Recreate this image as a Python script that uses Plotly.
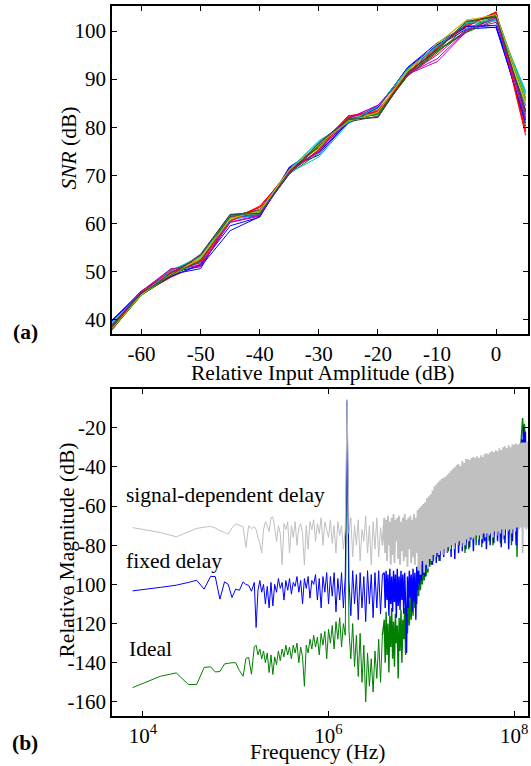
import plotly.graph_objects as go

# ---------------- (a) SNR vs relative input amplitude ----------------
amp_db = [-65, -60, -55, -50, -45, -40, -35, -30, -25, -20, -15, -10, -5, 0, 5]

snr_runs = [
    [39.6, 46.0, 49.4, 50.6, 61.2, 61.6, 71.6, 74.2, 81.2, 84.4, 91.8, 96.8, 100.4, 100.8, 84.5],
    [37.9, 45.1, 49.0, 52.4, 61.6, 62.6, 70.6, 76.4, 81.6, 83.0, 90.8, 95.8, 99.7, 102.4, 80.2],
    [38.9, 45.4, 48.8, 51.6, 60.6, 63.6, 70.4, 75.4, 82.2, 83.6, 90.6, 95.4, 100.9, 104.0, 78.3],
    [39.3, 45.5, 50.3, 52.9, 61.3, 62.2, 71.1, 77.2, 80.9, 84.2, 92.2, 96.9, 101.4, 102.1, 87.6],
    [38.5, 45.8, 50.5, 51.3, 60.2, 61.5, 70.7, 75.1, 81.9, 84.5, 91.0, 93.6, 99.9, 102.9, 82.0],
    [38.2, 45.3, 49.6, 53.1, 60.9, 62.8, 71.3, 76.1, 81.3, 83.3, 91.7, 97.2, 102.3, 103.1, 85.2],
    [38.7, 45.6, 49.3, 53.6, 61.9, 62.0, 70.2, 76.8, 81.7, 82.0, 91.2, 96.3, 101.9, 103.0, 83.1],
    [39.9, 45.9, 49.9, 51.0, 58.5, 61.4, 71.7, 75.7, 81.0, 83.9, 92.4, 97.5, 101.1, 100.7, 81.4],
    [38.1, 45.1, 49.2, 52.2, 61.8, 62.4, 70.3, 74.6, 81.4, 82.8, 90.7, 95.7, 100.2, 103.6, 86.1],
    [37.8, 45.7, 50.2, 52.6, 61.0, 63.3, 70.9, 76.0, 82.4, 83.0, 91.4, 96.6, 101.0, 103.8, 79.4],
    [39.0, 45.2, 49.5, 52.0, 60.7, 61.9, 70.5, 73.8, 80.8, 84.0, 91.9, 97.0, 100.6, 102.6, 86.8],
    [38.4, 45.5, 50.0, 51.8, 61.4, 62.9, 71.0, 76.5, 82.0, 83.4, 90.9, 95.0, 100.3, 101.8, 83.6],
    [39.4, 45.8, 49.1, 52.8, 61.1, 62.3, 71.4, 75.6, 81.5, 83.8, 92.0, 97.3, 102.1, 102.5, 84.7],
    [38.0, 45.3, 49.7, 53.3, 61.5, 61.8, 70.6, 76.3, 81.1, 82.3, 91.3, 96.0, 101.6, 103.3, 82.6],
    [39.7, 45.7, 49.0, 51.4, 59.5, 61.3, 71.5, 74.8, 80.9, 84.1, 92.3, 97.1, 100.9, 101.2, 80.8],
    [38.3, 45.4, 49.5, 52.1, 61.6, 62.7, 70.5, 76.0, 81.8, 82.6, 90.6, 96.1, 99.8, 103.2, 85.6],
    [38.6, 45.6, 49.8, 52.3, 60.4, 63.4, 70.8, 75.2, 82.3, 83.2, 90.9, 96.4, 101.3, 103.9, 79.0],
    [39.1, 45.3, 50.1, 53.2, 61.7, 62.1, 71.2, 76.9, 81.0, 84.3, 92.1, 96.7, 101.7, 102.3, 87.2],
    [38.8, 45.9, 50.6, 51.1, 60.3, 61.7, 70.7, 74.9, 81.7, 84.6, 91.1, 94.2, 100.1, 102.7, 81.6],
    [38.1, 45.2, 49.4, 52.7, 61.0, 62.6, 71.1, 76.4, 81.2, 83.1, 91.6, 97.4, 102.2, 103.4, 85.8],
    [38.9, 45.5, 49.2, 53.4, 61.8, 62.1, 70.3, 76.7, 81.6, 82.1, 91.1, 96.2, 102.0, 102.9, 83.4],
]
run_colors = ["#0000ff", "#008000", "#ff0000", "#00bfbf", "#bf00bf", "#bfbf00", "#404040"]

amp_ticks = [-60, -50, -40, -30, -20, -10, 0]
snr_ticks = [40, 50, 60, 70, 80, 90, 100]

# ---------------- (b) output spectra ----------------
# log10 of frequency in Hz
logf_a = [3.89, 4.19, 4.36, 4.49, 4.58, 4.66, 4.73, 4.78, 4.83, 4.88,
          4.92, 4.96, 5.00, 5.04, 5.08, 5.11, 5.14, 5.17]
logf_b = [5.20, 5.22, 5.24, 5.26, 5.28, 5.30, 5.32, 5.34, 5.36, 5.38,
          5.40, 5.42, 5.44, 5.46, 5.48, 5.50, 5.52, 5.54, 5.56, 5.58,
          5.60, 5.62, 5.64, 5.66, 5.68, 5.70, 5.72, 5.74, 5.76, 5.78,
          5.80, 5.82, 5.84, 5.86, 5.88, 5.90, 5.92, 5.94, 5.96, 5.98,
          6.00, 6.02, 6.04, 6.06, 6.08, 6.10, 6.12, 6.14, 6.16, 6.18,
          6.20, 6.22, 6.24, 6.26, 6.28, 6.30, 6.32, 6.34, 6.36, 6.38,
          6.40, 6.42, 6.44, 6.46, 6.48, 6.50, 6.52, 6.54, 6.56, 6.58]
logf_c = [6.60, 6.61, 6.62, 6.63, 6.64, 6.65, 6.66, 6.67, 6.68, 6.69,
          6.70, 6.71, 6.72, 6.73, 6.74, 6.75, 6.76, 6.77, 6.78, 6.79,
          6.80, 6.81, 6.82, 6.83, 6.84, 6.85, 6.86, 6.87, 6.88, 6.89,
          6.90, 6.91, 6.92, 6.93, 6.94, 6.95, 6.96, 6.97, 6.98, 6.99,
          7.00, 7.01, 7.02, 7.03, 7.04, 7.05, 7.06, 7.07, 7.08, 7.09,
          7.10, 7.11, 7.12, 7.13, 7.14, 7.15, 7.16, 7.17, 7.18, 7.19,
          7.20, 7.21, 7.22, 7.23, 7.24, 7.25, 7.26, 7.27, 7.28, 7.29,
          7.30, 7.31, 7.32, 7.33, 7.34, 7.35, 7.36, 7.37, 7.38, 7.39,
          7.40, 7.41, 7.42, 7.43, 7.44, 7.45, 7.46, 7.47, 7.48, 7.49,
          7.50, 7.51, 7.52, 7.53, 7.54, 7.55, 7.56, 7.57, 7.58, 7.59,
          7.60, 7.61, 7.62, 7.63, 7.64, 7.65, 7.66, 7.67, 7.68, 7.69,
          7.70, 7.71, 7.72, 7.73, 7.74, 7.75, 7.76, 7.77, 7.78, 7.79,
          7.80, 7.81, 7.82, 7.83, 7.84, 7.85, 7.86, 7.87, 7.88, 7.89,
          7.90, 7.91, 7.92, 7.93, 7.94, 7.95, 7.96, 7.97, 7.98, 7.99,
          8.00, 8.01, 8.02, 8.03, 8.04, 8.05, 8.06, 8.07, 8.08, 8.09,
          8.10, 8.11, 8.12, 8.13, 8.14, 8.15]

sig_dep_db = [
    -71.0, -73.5, -75.7, -73.2, -71.4, -70.8, -70.4, -71.2, -72.6, -73.5,
    -74.3, -71.0, -69.2, -69.8, -70.5, -81.1, -70.1, -71.5,
    # b
    -70.5, -72, -76, -79, -84, -72, -68, -70, -73, -66,
    -65.5, -71, -78, -70, -74, -90, -69, -72, -68, -84,
    -70, -76, -68, -80, -71, -69, -74, -90, -70, -82,
    -68, -72, -67, -78, -69, -74, -66, -80, -68, -72,
    -76, -67, -79, -70, -84, -68, -75, -70, -82, -72,
    -5.5, -74, -66, -86, -70, -80, -67, -88, -72, -78,
    -65, -84, -70, -90, -68, -82, -66, -86, -71, -80,
    # c
    -66, -84, -67, -88, -65, -80, -68, -90, -66, -85,
    -64, -89, -67, -78, -66, -87, -65, -90, -68, -83,
    -66, -88, -64, -86, -67, -91, -66, -82, -65, -89,
    -67, -86, -64, -90, -66, -84, -62, -93, -61, -95,
    -60, -88, -59, -94, -58, -90, -56, -92, -55, -87,
    -54, -88, -52, -85, -50, -86, -49, -84, -48, -85,
    -47, -83, -46, -85, -45.5, -82, -45, -84, -44, -81,
    -43, -82, -42, -80, -41, -82, -40, -79, -39, -80,
    -38.5, -78, -39.5, -81, -37, -79, -38, -80, -36, -77,
    -36, -78, -36.5, -76, -35.5, -77, -35, -76, -35.5, -75,
    -34.5, -77, -35.5, -75, -34, -77, -35, -74, -33.5, -76,
    -33, -74, -33.5, -75, -32.5, -74, -32, -76, -32.5, -73,
    -31.5, -75, -32, -73, -30.5, -74, -31.5, -72, -30, -75,
    -29.5, -72, -30.5, -73, -29, -72, -30, -74, -28.5, -72,
    -28.5, -73, -28, -71, -28.5, -72, -28, -71, -27.5, -84,
    -27.5, -71, -27.5, -72, -27, -71,
]

fixed_db = [
    -103.3, -101.5, -100.4, -99.0, -97.9, -102.4, -95.9, -96.0, -107.5, -98.7,
    -100.0, -106.7, -102.4, -103.0, -98.7, -100.0, -100.5, -103.5,
    # b
    -99, -122, -103, -98, -104, -100, -110, -101, -112, -99,
    -111, -100, -104, -97, -102, -99, -108, -98, -103, -97,
    -105, -99, -101, -96, -104, -98, -110, -97, -102, -96,
    -107, -98, -100, -95, -108, -97, -112, -96, -104, -94,
    -110, -96, -106, -94, -114, -97, -108, -94, -112, -96,
    -6, -98, -116, -93, -110, -95, -118, -94, -112, -96,
    -119, -93, -110, -95, -117, -94, -112, -93, -115, -95,
    # c
    -94, -112, -93, -108, -95, -116, -92, -110, -96, -114,
    -93, -109, -95, -117, -92, -111, -96, -113, -93, -108,
    -95, -115, -94, -110, -135, -96, -112, -93, -107, -95,
    -114, -92, -109, -94, -118, -91, -103, -90, -100, -88,
    -98, -87, -95, -86, -96, -85, -92, -84, -90, -82,
    -87, -80, -90, -70, -84, -72, -89, -68, -86, -74,
    -88, -69, -78, -72, -86, -67, -79, -71, -84, -68,
    -81, -70, -86, -66, -80, -69, -87, -68, -77, -65,
    -84, -70, -75, -64, -83, -69, -74, -63, -82, -68,
    -76, -66, -81, -62, -77, -67, -83, -64, -75, -68,
    -71, -63, -80, -67, -72, -62, -79, -66, -78, -64,
    -82, -67, -73, -62, -80, -66, -71, -63, -79, -67,
    -70, -62, -78, -65, -69, -61, -81, -66, -70, -62,
    -79, -65, -69, -61, -82, -64, -70, -62, -78, -65,
    -68, -60, -80, -64, -67, -60, -70, -40, -26, -35,
    -20, -28, -22, -45, -55, -62,
]

ideal_db = [
    -152.7, -146.9, -145.2, -151.1, -151.1, -142.4, -142.1, -144.7, -144.5, -140.6,
    -140.3, -140.0, -140.0, -144.0, -146.9, -137.8, -137.3, -145.9,
    # b
    -132, -131, -136, -133, -138, -134, -140, -135, -145, -136,
    -146, -137, -141, -134, -139, -133, -137, -131, -136, -132,
    -138, -131, -135, -130, -140, -132, -137, -152, -131, -135,
    -128, -133, -126, -132, -127, -136, -125, -131, -124, -138,
    -123, -130, -121, -133, -119, -128, -117, -132, -120, -126,
    -7, -124, -138, -120, -142, -126, -147, -125, -150, -131,
    -160, -135, -152, -138, -155, -134, -148, -128, -150, -126,
    # c
    -118, -140, -114, -136, -120, -145, -116, -132, -112, -138,
    -119, -142, -115, -130, -121, -148, -117, -134, -113, -140,
    -118, -128, -112, -136, -115, -125, -108, -121, -106, -118,
    -104, -116, -102, -112, -100, -110, -97, -106, -95, -103,
    -93, -100, -92, -98, -90, -96, -88, -94, -87, -91,
    -85, -90, -84, -88, -72, -86, -70, -79, -73, -88,
    -69, -80, -71, -85, -68, -82, -72, -78, -67, -83,
    -70, -76, -66, -79, -71, -82, -65, -78, -69, -74,
    -66, -80, -68, -73, -64, -79, -69, -84, -65, -77,
    -68, -82, -64, -74, -67, -76, -63, -72, -66, -80,
    -62, -73, -67, -70, -63, -81, -66, -71, -62, -75,
    -65, -72, -61, -78, -66, -70, -62, -80, -65, -69,
    -61, -74, -64, -70, -60, -79, -65, -68, -61, -77,
    -64, -69, -60, -71, -63, -67, -59, -80, -63, -68,
    -60, -70, -62, -86, -61, -68, -50, -30, -22, -15,
    -25, -18, -30, -48, -58, -64,
]

mag_ticks = [-160, -140, -120, -100, -80, -60, -40, -20]
freq_ticks = [1e4, 1e6, 1e8]
freq_ticktext = ["10<sup>4</sup>", "10<sup>6</sup>", "10<sup>8</sup>"]

logf = logf_a + logf_b + logf_c
freq_hz = [10 ** v for v in logf]
assert len(freq_hz) == len(sig_dep_db) == len(fixed_db) == len(ideal_db), (
    len(freq_hz), len(sig_dep_db), len(fixed_db), len(ideal_db))

FONT = "Liberation Serif"
fig = go.Figure()

for i, run in enumerate(snr_runs):
    fig.add_trace(go.Scatter(
        x=amp_db, y=run, mode="lines", xaxis="x", yaxis="y",
        line=dict(color=run_colors[i % len(run_colors)], width=1),
        hoverinfo="skip", showlegend=False))

# the densely sampled high-frequency part (logf_c) is stroked a little wider so
# that it reads as the solid band seen in the original
split = len(logf_a) + len(logf_b) - 1
spectra = [("Ideal", ideal_db, "#008000", 1.4),
           ("fixed delay", fixed_db, "#0000ff", 1.4),
           ("signal-dependent delay", sig_dep_db, "#c0c0c0", 1.9)]
for name, vals, color, dense_w in spectra:
    fig.add_trace(go.Scatter(x=freq_hz[:split + 1], y=vals[:split + 1], mode="lines",
                             xaxis="x2", yaxis="y2", name=name, showlegend=False,
                             line=dict(color=color, width=1, simplify=False)))
    fig.add_trace(go.Scatter(x=freq_hz[split:], y=vals[split:], mode="lines",
                             xaxis="x2", yaxis="y2", name=name, showlegend=False,
                             line=dict(color=color, width=dense_w, simplify=False)))

axis_common = dict(showline=True, linecolor="black", linewidth=1.5, mirror="ticks",
                   ticks="inside", ticklen=5, tickwidth=1, tickcolor="black",
                   showgrid=False, zeroline=False, automargin=False,
                   tickfont=dict(family=FONT, size=21, color="black"))

fig.update_layout(
    width=531, height=766,
    margin=dict(l=112, r=3, t=6, b=50, autoexpand=False),
    paper_bgcolor="white", plot_bgcolor="white",
    showlegend=False,
    font=dict(family=FONT, color="black"),
    xaxis=dict(domain=[0, 1], anchor="y", range=[-65, 5.4],
               tickvals=amp_ticks, ticktext=[str(v) for v in amp_ticks],
               **axis_common),
    yaxis=dict(domain=[0.538, 1], anchor="x", range=[37, 105.2],
               tickvals=snr_ticks, ticktext=[str(v) for v in snr_ticks], **axis_common),
    xaxis2=dict(domain=[0, 1], anchor="y2", type="log", range=[3.668, 8.148],
                tickvals=freq_ticks, ticktext=freq_ticktext, **axis_common),
    yaxis2=dict(domain=[0, 0.4606], anchor="x2", range=[-167.2, -0.2],
                tickvals=mag_ticks, ticktext=[str(v) for v in mag_ticks], **axis_common),
)

W, X0, H, Y0 = 416.0, 112.0, 710.0, 716.0
def px(x):
    return (x - X0) / W
def py(y):
    return (Y0 - y) / H

TS = 21.5
ann = [
    dict(text="Relative Input Amplitude (dB)", x=px(322.5), y=py(373)),
    dict(text="Frequency (Hz)", x=px(318), y=py(752)),
    dict(text="<i>SNR</i> (dB)", x=px(69), y=py(148.5), textangle=-90),
    dict(text="Relative Magnitude (dB)", x=px(66), y=py(550.5), textangle=-90),
    dict(text="<b>(a)</b>", x=px(25), y=py(331.7)),
    dict(text="<b>(b)</b>", x=px(25), y=py(743)),
    dict(text="signal-dependent delay", x=px(124), y=py(495), xanchor="left"),
    dict(text="fixed delay", x=px(124), y=py(561), xanchor="left"),
    dict(text="Ideal", x=px(126.7), y=py(649), xanchor="left"),
]
for a in ann:
    base = dict(xref="paper", yref="paper", showarrow=False, xanchor="center",
                yanchor="middle", font=dict(family=FONT, size=TS, color="black"))
    base.update(a)
    fig.add_annotation(**base)

fig.write_html("out.html", config={"displayModeBar": False},
               post_script="document.body.style.margin='0';document.body.style.overflow='hidden';")
